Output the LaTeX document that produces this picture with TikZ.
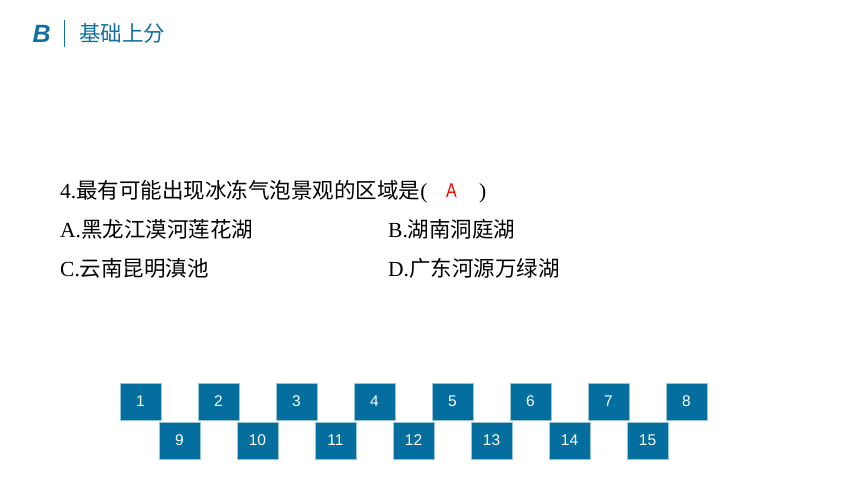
\documentclass[tikz,border=0pt]{standalone}
\usepackage{fontspec}
\usepackage{graphicx}
\setmainfont{Liberation Serif}
\newfontfamily\cjk{Noto Sans CJK SC}
\newfontfamily\sansf{Liberation Sans}
\definecolor{hdblue}{HTML}{1270A0}
\definecolor{boxblue}{HTML}{046E9F}
\definecolor{ansred}{HTML}{FF0000}
\tikzset{
  numbox/.style={draw=boxblue!40, line width=0.8pt, fill=boxblue, minimum width=41pt, minimum height=37pt, inner sep=0pt,
    text=white, font=\sansf\fontsize{15.5}{15.5}\selectfont},
  qline/.style={anchor=base west, inner sep=0pt, font=\fontsize{21.5}{22}\selectfont}
}
\begin{document}
\begin{tikzpicture}[x=1pt,y=-1pt]
\useasboundingbox (0,0) rectangle (860,484);
% header
\node[anchor=base west, inner sep=0pt, text=hdblue, font=\sansf\bfseries\itshape\fontsize{25}{25}\selectfont] (hb) at (32.5,43) {B};
\draw[hdblue, line width=1pt] (64.5,20) coordinate (ls) -- (64.5,47) coordinate (le);
\node[anchor=base west, inner sep=0pt, text=hdblue, font=\cjk\fontsize{21.5}{22}\selectfont] (ht) at (79,42) {基础上分};
% question
\node[qline] (q1) at (60,199) {4.{\cjk 最有可能出现冰冻气泡景观的区域是}(};
\node[anchor=base west, inner sep=0pt, text=ansred, font=\sansf\fontsize{20}{20}\selectfont] (ans) at (446,197) {\scalebox{0.8}[1]{A}};
\node[qline] (q1r) at (479,199) {)};
\node[qline] (qa) at (60,237) {A.{\cjk 黑龙江漠河莲花湖}};
\node[qline] (qb) at (388,237) {B.{\cjk 湖南洞庭湖}};
\node[qline] (qc) at (60,276) {C.{\cjk 云南昆明滇池}};
\node[qline] (qd) at (388,276) {D.{\cjk 广东河源万绿湖}};
% number boxes
\foreach \i in {1,...,8} {
  \node[numbox] (b\i) at ({140.5+78*(\i-1)},401.5) {\i};
}
\foreach \j [evaluate=\j as \n using int(\j+8)] in {1,...,7} {
  \node[numbox] (b\n) at ({179.5+78*(\j-1)},440.5) {\n};
}
\end{tikzpicture}
\end{document}
